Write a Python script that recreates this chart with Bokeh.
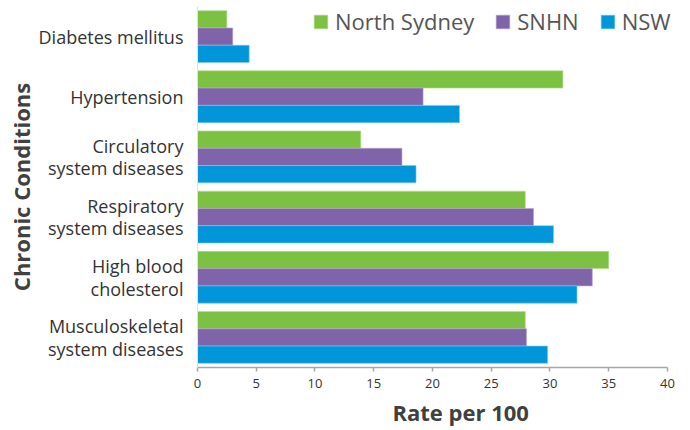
from bokeh.plotting import figure
from bokeh.models import FactorRange, Legend, LegendItem, Title, Range1d
from bokeh.transform import dodge
from bokeh.embed import file_html
from bokeh.resources import INLINE

categories = ["Diabetes mellitus", "Hypertension", "Circulatory\nsystem diseases",
              "Respiratory\nsystem diseases", "High blood\ncholesterol",
              "Musculoskeletal\nsystem diseases"]
north_sydney = [2.5, 31.1, 13.9, 27.9, 35.0, 27.9]
snhn = [3.0, 19.2, 17.4, 28.6, 33.6, 28.0]
nsw = [4.4, 22.3, 18.6, 30.3, 32.3, 29.8]
series_names = ["North Sydney", "SNHN", "NSW"]
colors = ["#7dc142", "#8064a9", "#0096d9"]
x_ticks = [0, 5, 10, 15, 20, 25, 30, 35, 40]
x_axis_bounds = (0, 40)

FONT = "Open Sans"

W, H = 690, 430
p = figure(width=W, height=H, output_backend="svg", toolbar_location=None,
           y_range=FactorRange(factors=list(reversed(categories)), range_padding=0),
           x_range=Range1d(0, 41.96))
p.min_border_left = 197
p.min_border_right = 0
p.min_border_top = 6
p.min_border_bottom = 62
p.outline_line_color = None
p.grid.grid_line_color = None
p.background_fill_color = "white"

data = dict(cat=categories, ns=north_sydney, snhn=snhn, nsw=nsw)
h = 0.287
r1 = p.hbar(y=dodge("cat", h, range=p.y_range), right="ns", left=0, height=h,
            source=data, fill_color=colors[0], line_color="#b5dc8e", line_width=0.6)
r2 = p.hbar(y=dodge("cat", 0, range=p.y_range), right="snhn", left=0, height=h,
            source=data, fill_color=colors[1], line_color="#b3a3cf", line_width=0.6)
r3 = p.hbar(y=dodge("cat", -h, range=p.y_range), right="nsw", left=0, height=h,
            source=data, fill_color=colors[2], line_color="#80c9ec", line_width=0.6)

# x axis
xa = p.xaxis[0]
xa.ticker = x_ticks
xa.bounds = x_axis_bounds
xa.axis_line_color = "#a6a6a6"
xa.axis_line_width = 1.5
xa.major_tick_line_color = "#a6a6a6"
xa.major_tick_line_width = 1.5
xa.major_tick_in = 0
xa.major_tick_out = 4
xa.minor_tick_line_color = None
xa.major_label_text_font = FONT
xa.major_label_text_font_size = "13px"
xa.major_label_text_color = "#333333"
xa.major_label_standoff = 7

# y axis
ya = p.yaxis[0]
ya.axis_line_color = "#e0e0e0"
ya.major_tick_line_color = None
ya.minor_tick_line_color = None
ya.major_label_text_font = FONT
ya.major_label_text_font_size = "18px"
ya.major_label_text_line_height = 0.95
ya.major_label_text_color = "#333333"
ya.major_label_standoff = 8
ya.axis_label = "Chronic Conditions"
ya.axis_label_text_font = FONT
ya.axis_label_text_font_size = "22px"
ya.axis_label_text_font_style = "bold"
ya.axis_label_text_line_height = 1.0
ya.axis_label_text_color = "#404040"
ya.axis_label_standoff = 0

p.add_layout(Title(text="Rate per 100", align="left", offset=195,
                   text_font=FONT, text_font_size="22px", text_font_style="bold",
                   text_color="#404040", standoff=8), "below")

legend = Legend(items=[LegendItem(label=series_names[0], renderers=[r1]),
                       LegendItem(label=series_names[1], renderers=[r2]),
                       LegendItem(label=series_names[2], renderers=[r3])],
                orientation="horizontal", location=(115, 331),
                glyph_width=17, glyph_height=17, label_standoff=6, spacing=20,
                padding=0, margin=0, border_line_color=None,
                background_fill_alpha=0,
                label_text_font=FONT, label_text_font_size="22px",
                label_text_color="#555555")
p.add_layout(legend, "center")

open("out.html", "w").write(file_html(p, INLINE))
